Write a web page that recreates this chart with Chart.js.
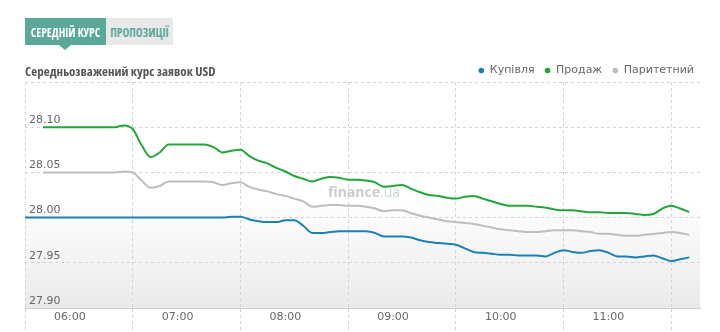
<!DOCTYPE html>
<html>
<head>
<meta charset="utf-8">
<script src="https://cdn.jsdelivr.net/npm/chart.js@4"></script>
<style>
  html, body { margin: 0; padding: 0; background: #fff; }
  #wrap { position: relative; width: 720px; height: 332px; overflow: hidden; }
  #chart { position: absolute; left: 0; top: 0; }
  .tabs { position: absolute; left: 25px; top: 18px; height: 27px; display: flex;
          font-family: "Open Sans", sans-serif; font-stretch: 75%;
          font-weight: bold; font-size: 11.5px; white-space: nowrap; }
  .tab { height: 27px; line-height: 30px; text-align: center; }
  .tab.active { width: 81px; background: #5ba898; color: #fff; position: relative; }
  .tab.active::after { content: ""; position: absolute; left: 34px; top: 27px;
          border-left: 6px solid transparent; border-right: 6px solid transparent;
          border-top: 5px solid #5ba898; }
  .tab.other { width: 67px; background: #e9e9e9; color: #5ba898; }
  .title { position: absolute; left: 25px; top: 65px; line-height: 13px;
           font-family: "Open Sans", sans-serif; font-stretch: 75%;
           font-weight: bold; font-size: 13px; color: #555; white-space: nowrap; }
</style>
</head>
<body>
<div id="wrap">
  <canvas id="chart" width="720" height="332"></canvas>
  <div class="tabs"><div class="tab active">СЕРЕДНІЙ КУРС</div><div class="tab other">ПРОПОЗИЦІЇ</div></div>
  <div class="title">Середньозважений курс заявок USD</div>
</div>
<script>
// Sampling times (every 5 minutes)
const times = [
  '05:35','05:40','05:45','05:50','05:55','06:00','06:05','06:10','06:15','06:20',
  '06:25','06:30','06:35','06:40','06:45','06:50','06:55','07:00','07:05','07:10',
  '07:15','07:20','07:25','07:30','07:35','07:40','07:45','07:50','07:55','08:00',
  '08:05','08:10','08:15','08:20','08:25','08:30','08:35','08:40','08:45','08:50',
  '08:55','09:00','09:05','09:10','09:15','09:20','09:25','09:30','09:35','09:40',
  '09:45','09:50','09:55','10:00','10:05','10:10','10:15','10:20','10:25','10:30',
  '10:35','10:40','10:45','10:50','10:55','11:00','11:05','11:10','11:15','11:20',
  '11:25','11:30','11:35','11:40','11:45'
];

// Купівля
const buyRates = [
  28.000, 28.000, 28.000, 28.000, 28.000, 28.000, 28.000, 28.000, 28.000, 28.000,
  28.000, 28.000, 28.000, 28.000, 28.000, 28.000, 28.000, 28.000, 28.000, 28.000,
  28.000, 28.000, 28.000, 28.001, 28.001, 27.998, 27.996, 27.995, 27.995, 27.997,
  27.997, 27.991, 27.983, 27.983, 27.984, 27.985, 27.985, 27.985, 27.985, 27.983,
  27.979, 27.979, 27.979, 27.978, 27.975, 27.973, 27.972, 27.971, 27.970, 27.966,
  27.962, 27.961, 27.960, 27.959, 27.959, 27.958, 27.958, 27.958, 27.957, 27.961,
  27.964, 27.962, 27.961, 27.963, 27.964, 27.961, 27.957, 27.957, 27.956, 27.957,
  27.958, 27.955, 27.952, 27.954, 27.956
];

// Продаж
const sellRates = [
  null,   null,   28.100, 28.100, 28.100, 28.100, 28.100, 28.100, 28.100, 28.100,
  28.100, 28.102, 28.098, 28.080, 28.067, 28.072, 28.081, 28.081, 28.081, 28.081,
  28.081, 28.078, 28.072, 28.074, 28.075, 28.068, 28.063, 28.060, 28.055, 28.051,
  28.046, 28.043, 28.040, 28.043, 28.045, 28.044, 28.042, 28.042, 28.041, 28.039,
  28.034, 28.035, 28.036, 28.032, 28.028, 28.025, 28.024, 28.022, 28.021, 28.023,
  28.024, 28.021, 28.018, 28.015, 28.013, 28.013, 28.013, 28.012, 28.011, 28.009,
  28.008, 28.008, 28.007, 28.006, 28.006, 28.005, 28.005, 28.005, 28.004, 28.003,
  28.004, 28.010, 28.013, 28.010, 28.006
];

// Паритетний
const parityRates = [
  null,   null,   28.050, 28.050, 28.050, 28.050, 28.050, 28.050, 28.050, 28.050,
  28.050, 28.051, 28.050, 28.041, 28.033, 28.035, 28.040, 28.040, 28.040, 28.040,
  28.040, 28.039, 28.036, 28.038, 28.039, 28.034, 28.031, 28.029, 28.026, 28.024,
  28.021, 28.018, 28.012, 28.013, 28.014, 28.014, 28.013, 28.013, 28.012, 28.010,
  28.007, 28.008, 28.008, 28.005, 28.002, 28.000, 27.998, 27.996, 27.995, 27.994,
  27.993, 27.991, 27.989, 27.987, 27.986, 27.985, 27.984, 27.984, 27.985, 27.986,
  27.986, 27.986, 27.985, 27.984, 27.982, 27.982, 27.981, 27.980, 27.980, 27.981,
  27.982, 27.983, 27.984, 27.983, 27.981
];

const seriesNames = ['Купівля', 'Продаж', 'Паритетний'];
const seriesColors = ['#1b80b5', '#22a63b', '#bdbdbd'];

// Time axis: labelled hours, dashed grid positions, visible range
const hourLabels = ['06:00', '07:00', '08:00', '09:00', '10:00', '11:00'];
const gridTimes = ['05:35', '06:35', '07:35', '08:35', '09:35', '10:35', '11:35'];
const timeRange = ['05:35', '11:51'];

// Rate axis
const rateTicks = [27.90, 27.95, 28.00, 28.05, 28.10, 28.15];
const rateTickLabels = ['27.90', '27.95', '28.00', '28.05', '28.10', ''];

const toMin = s => { const [h, m] = s.split(':').map(Number); return h * 60 + m; };
const hourMins = hourLabels.map(toMin);
const hourSet = new Set(hourMins);

const makeSeries = arr => times.map((t, i) => ({ x: toMin(t), y: arr[i] }));

const GRID = '#d3d3d3';
const TICK_FONT = { family: '"DejaVu Sans", sans-serif', size: 11 };

// Soft gradient behind the plot area and the watermark
const backdrop = {
  id: 'backdrop',
  beforeDraw(chart) {
    const { ctx, chartArea: a } = chart;
    const g = ctx.createLinearGradient(0, a.top, 0, a.bottom);
    g.addColorStop(0, '#ffffff');
    g.addColorStop(0.52, '#ffffff');
    g.addColorStop(1, '#eaeaea');
    ctx.save();
    ctx.fillStyle = g;
    ctx.fillRect(a.left, a.top, a.right - a.left, a.bottom - a.top);
    ctx.restore();
  },
  beforeDatasetsDraw(chart) {
    const { ctx } = chart;
    ctx.save();
    ctx.textBaseline = 'alphabetic';
    ctx.font = 'bold 14px "Open Sans", sans-serif';
    ctx.fillStyle = '#cbcbcb';
    const x0 = 328, y0 = 197;
    ctx.fillText('finance', x0, y0);
    const w = ctx.measureText('finance').width;
    ctx.font = '14px "Open Sans", sans-serif';
    ctx.fillStyle = '#cfd6da';
    ctx.fillText('.ua', x0 + w, y0);
    ctx.restore();
  }
};

// Keep the legend row compact above the plot and flush to the right edge
const legendTrim = {
  id: 'legendTrim',
  beforeUpdate(chart) {
    const lg = chart.legend;
    if (lg && !lg._trimmed) {
      const fit = lg.fit;
      lg.fit = function () { fit.call(this); this.height = Math.max(0, this.height - 4); };
      lg._trimmed = true;
    }
  },
  afterLayout(chart) {
    const lg = chart.legend;
    if (lg) { lg.left += 4; lg.right += 4; }
  }
};

const baseLabels = Chart.defaults.plugins.legend.labels.generateLabels;

new Chart(document.getElementById('chart'), {
  type: 'line',
  data: {
    datasets: [buyRates, sellRates, parityRates].map((arr, i) => ({
      label: seriesNames[i],
      data: makeSeries(arr),
      borderColor: seriesColors[i],
      backgroundColor: seriesColors[i],
      borderWidth: 2,
      pointRadius: 0,
      fill: false,
      cubicInterpolationMode: 'monotone'
    }))
  },
  options: {
    responsive: false,
    animation: false,
    events: [],
    layout: { padding: { left: 25, right: 20, top: 55, bottom: 0 } },
    plugins: {
      tooltip: { enabled: false },
      legend: {
        position: 'top',
        align: 'end',
        labels: {
          usePointStyle: true,
          pointStyle: 'circle',
          boxWidth: 6,
          boxHeight: 4,
          padding: 10,
          color: '#666',
          font: TICK_FONT,
          generateLabels(chart) {
            return baseLabels(chart).map(it => Object.assign(it, { lineWidth: 0, strokeStyle: 'rgba(0,0,0,0)' }));
          }
        }
      }
    },
    scales: {
      x: {
        type: 'linear',
        min: toMin(timeRange[0]),
        max: toMin(timeRange[1]),
        afterBuildTicks(scale) {
          const vals = gridTimes.map(toMin).concat(hourMins).sort((a, b) => a - b);
          scale.ticks = vals.map(v => ({ value: v }));
        },
        afterFit(scale) { scale.height = 24; },
        ticks: {
          autoSkip: false,
          maxRotation: 0,
          padding: -21,
          color: '#666',
          font: TICK_FONT,
          callback(value) {
            const i = hourMins.indexOf(value);
            return i >= 0 ? hourLabels[i] : '';
          }
        },
        grid: {
          color: ctx => (ctx.tick && hourSet.has(ctx.tick.value)) ? 'rgba(0,0,0,0)' : GRID,
          tickColor: ctx => (ctx.tick && hourSet.has(ctx.tick.value)) ? 'rgba(0,0,0,0)' : GRID,
          tickLength: 24,
          tickBorderDash: [3, 3],
          lineWidth: 1
        },
        border: { display: true, color: '#d0d0d0', dash: [3, 3] }
      },
      y: {
        type: 'linear',
        min: rateTicks[0],
        max: rateTicks[rateTicks.length - 1],
        afterBuildTicks(scale) {
          scale.ticks = rateTicks.map(v => ({ value: v }));
        },
        afterFit(scale) { scale.width = 0; },
        ticks: {
          mirror: true,
          padding: 4,
          labelOffset: -7,
          color: '#666',
          font: TICK_FONT,
          callback(value) {
            const i = rateTicks.findIndex(v => Math.abs(v - value) < 1e-6);
            return i >= 0 ? rateTickLabels[i] : '';
          }
        },
        grid: { color: GRID, drawTicks: false, lineWidth: 1 },
        border: { display: false, dash: [3, 3] }
      }
    }
  },
  plugins: [backdrop, legendTrim]
});
</script>
</body>
</html>
